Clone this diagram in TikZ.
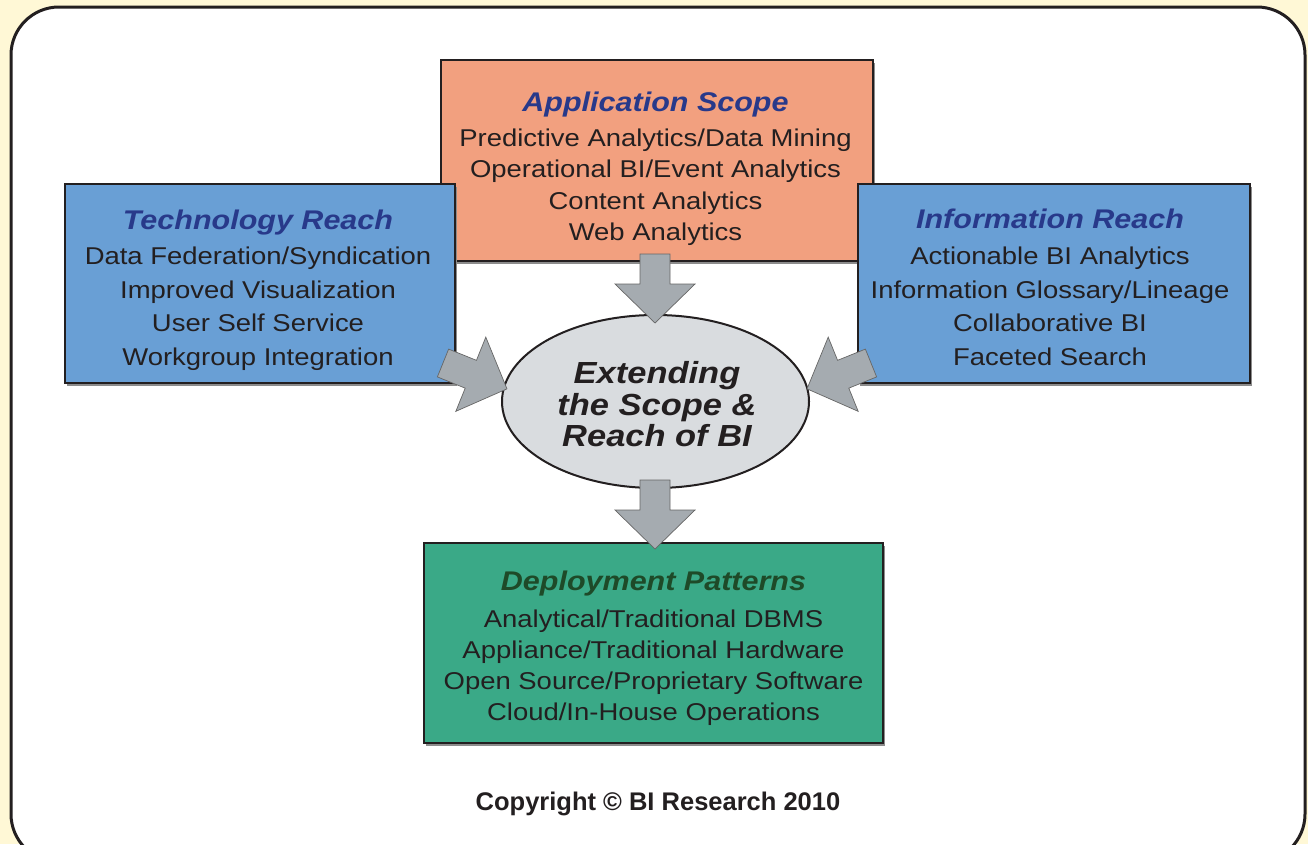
\documentclass[tikz,border=0pt]{standalone}
\usepackage{fontspec}
\setmainfont{Liberation Sans}
\newfontfamily\diag{Liberation Sans}[FakeStretch=1.13]
\usetikzlibrary{shapes.geometric,shadows}
\definecolor{cream}{HTML}{FFF8D6}
\definecolor{framecol}{HTML}{231F20}
\definecolor{appfill}{HTML}{F2A07F}
\definecolor{reachfill}{HTML}{699FD5}
\definecolor{depfill}{HTML}{3AA987}
\definecolor{hubfill}{HTML}{D9DCDF}
\definecolor{arrowfill}{HTML}{A5ABB0}
\definecolor{txt}{HTML}{231F20}
\definecolor{bluetitle}{HTML}{28398A}
\definecolor{greentitle}{HTML}{1E4A28}
\tikzset{
  boxstyle/.style={draw=framecol, line width=2.2pt, inner sep=0pt, outer sep=0pt,
    drop shadow={shadow xshift=2pt, shadow yshift=-2.5pt, fill=black!45, opacity=1}},
  hubstyle/.style={ellipse, draw=framecol, line width=2pt, fill=hubfill, inner sep=0pt},
  headtxt/.style={anchor=base, inner sep=0pt, font=\diag\bfseries\itshape\fontsize{27}{30}\selectfont},
  bodytxt/.style={anchor=base, inner sep=0pt, text=txt, font=\diag\fontsize{24.3}{28}\selectfont},
  hubtxt/.style={anchor=base, inner sep=0pt, text=txt, font=\diag\bfseries\itshape\fontsize{30.5}{32}\selectfont},
  arrowstyle/.style={fill=arrowfill, draw=black!60, line width=0.7pt, line join=miter},
  barrow/.pic={\draw[arrowstyle] (0,-15) -- (30,-15) -- (30,-40) -- (69,0) -- (30,40) -- (30,15) -- (0,15) -- cycle;}
}
\begin{document}
\begin{tikzpicture}[x=1pt,y=-1pt]
\useasboundingbox (0,0) rectangle (1308,844);
\clip (0,0) rectangle (1308,844);
\fill[cream] (0,0) rectangle (1308,844);
\draw[draw=framecol, line width=3pt, fill=white, rounded corners=48pt] (11,7) rectangle (1305,862);

% boxes
\node[boxstyle, fill=appfill, minimum width=432pt, minimum height=201pt] (app) at (657,160.5) {};
\node[boxstyle, fill=reachfill, minimum width=390pt, minimum height=199pt] (tech) at (260,283.5) {};
\node[boxstyle, fill=reachfill, minimum width=392pt, minimum height=199pt] (info) at (1054,283.5) {};
\node[boxstyle, fill=depfill, minimum width=459pt, minimum height=200pt] (dep) at (653.5,643) {};
\node[hubstyle, minimum width=307pt, minimum height=173pt] (hub) at (655.5,401.5) {};

% arrows
\coordinate (aTop) at (655,254);
\coordinate (aBot) at (655,480);
\coordinate (aLeft) at (443,363);
\coordinate (aRight) at (871,363);
\pic[rotate=-90] at (aTop) {barrow};
\pic[rotate=-90] at (aBot) {barrow};
\pic[rotate=-22] at (aLeft) {barrow};
\pic[rotate=-158] at (aRight) {barrow};

% Application Scope
\node[headtxt, text=bluetitle] (appT) at (655.5,111) {Application Scope};
\node[bodytxt] (app1) at (655.5,146.5) {Predictive Analytics/Data Mining};
\node[bodytxt] (app2) at (655.5,177.5) {Operational BI/Event Analytics};
\node[bodytxt] (app3) at (655.5,209) {Content Analytics};
\node[bodytxt] (app4) at (655.5,240) {Web Analytics};

% Technology Reach
\node[headtxt, text=bluetitle] (techT) at (258,229) {Technology Reach};
\node[bodytxt] (tech1) at (258,264) {Data Federation/Syndication};
\node[bodytxt] (tech2) at (258,298) {Improved Visualization};
\node[bodytxt] (tech3) at (258,331.5) {User Self Service};
\node[bodytxt] (tech4) at (258,365) {Workgroup Integration};

% Information Reach
\node[headtxt, text=bluetitle] (infoT) at (1050,228.5) {Information Reach};
\node[bodytxt] (info1) at (1050,264) {Actionable BI Analytics};
\node[bodytxt] (info2) at (1050,298) {Information Glossary/Lineage};
\node[bodytxt] (info3) at (1050,331.5) {Collaborative BI};
\node[bodytxt] (info4) at (1050,365) {Faceted Search};

% Deployment Patterns
\node[headtxt, text=greentitle] (depT) at (653.5,590.5) {Deployment Patterns};
\node[bodytxt] (dep1) at (653.5,627) {Analytical/Traditional DBMS};
\node[bodytxt] (dep2) at (653.5,658.5) {Appliance/Traditional Hardware};
\node[bodytxt] (dep3) at (653.5,689.5) {Open Source/Proprietary Software};
\node[bodytxt] (dep4) at (653.5,720) {Cloud/In-House Operations};

% hub text
\node[hubtxt] (hub1) at (657,383) {Extending};
\node[hubtxt] (hub2) at (657,415) {the Scope \&};
\node[hubtxt] (hub3) at (657,446) {Reach of BI};

% copyright
\node[anchor=base, inner sep=0pt, text=txt, font=\bfseries\fontsize{25.5}{28}\selectfont] (copy) at (658,810) {Copyright © BI Research 2010};
\end{tikzpicture}
\end{document}
